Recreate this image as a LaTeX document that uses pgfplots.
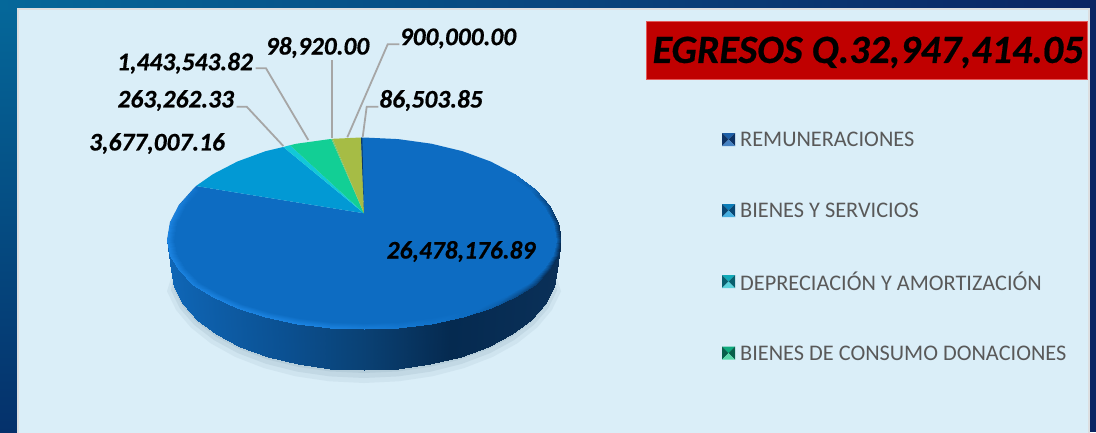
\documentclass[border=0pt]{standalone}
\usepackage{pgfplots}
\pgfplotsset{compat=1.18}
\usepackage{fontspec}
\setmainfont{Carlito}
\definecolor{panel}{HTML}{DAEEF8}
\definecolor{faceblue}{HTML}{0D6CC2}
\definecolor{lightb}{HTML}{0299D4}
\definecolor{cyanb}{HTML}{12C8D8}
\definecolor{greenb}{HTML}{12CF95}
\definecolor{oliveb}{HTML}{A6BC45}
\definecolor{lead}{HTML}{A6A6A6}
\definecolor{legtxt}{HTML}{595959}
\definecolor{frameA}{RGB}{5,104,154}
\definecolor{frameB}{RGB}{5,49,107}
\definecolor{frameC}{RGB}{11,36,99}
\definecolor{shadowc}{RGB}{170,195,210}
\definecolor{framegrey}{RGB}{220,222,224}
\definecolor{boxred}{RGB}{192,0,0}
\definecolor{boxedge}{RGB}{226,90,90}
\definecolor{keyAt}{RGB}{28,95,168}\definecolor{keyAs}{RGB}{13,50,100}\definecolor{keyAb}{RGB}{70,130,195}
\definecolor{keyBt}{RGB}{10,125,185}\definecolor{keyBs}{RGB}{8,70,115}\definecolor{keyBb}{RGB}{70,175,225}
\definecolor{keyCt}{RGB}{15,170,185}\definecolor{keyCs}{RGB}{8,95,110}\definecolor{keyCb}{RGB}{90,210,220}
\definecolor{keyDt}{RGB}{15,170,125}\definecolor{keyDs}{RGB}{8,95,75}\definecolor{keyDb}{RGB}{90,215,170}
\definecolor{slivA}{RGB}{120,198,110}
\definecolor{slivB}{RGB}{12,58,102}
\pgfplotsset{
 colormap={side}{rgb255(0)=(15,102,182) rgb255(0.3)=(11,80,145) rgb255(0.5)=(10,65,116) rgb255(0.72)=(5,42,80) rgb255(1)=(10,48,88)},
 colormap={rim}{rgb255(0)=(28,132,226) rgb255(0.5)=(13,108,194) rgb255(1)=(6,44,85)}
}
\newcommand\legendkey[6]{% ytop ymid ybot  top side bottom
 \addplot[fill=#4,draw=none] coordinates {(722,#1) (735,#1) (728.5,#2)};
 \addplot[fill=#5,draw=none] coordinates {(722,#1) (728.5,#2) (722,#3)};
 \addplot[fill=#5,draw=none] coordinates {(735,#1) (728.5,#2) (735,#3)};
 \addplot[fill=#6,draw=none] coordinates {(722,#3) (735,#3) (728.5,#2)};
}
\newfontfamily\heavy[BoldItalicFeatures={FakeBold=0.5}]{Carlito}
\newcommand\val[1]{\fontsize{25.4}{25.4}\selectfont\heavy\bfseries\itshape #1}
\begin{document}
\begin{tikzpicture}
\begin{axis}[scale only axis,width=1096pt,height=432pt,xmin=0,xmax=1096,ymin=0,ymax=432,
 y dir=reverse,hide axis,clip=true,point meta min=0,point meta max=1]
% frame
\shade[top color=frameA,bottom color=frameB] (axis cs:0,0) rectangle (axis cs:19,432);
\shade[left color=frameA,right color=frameC] (axis cs:0,0) rectangle (axis cs:1096,9);
\fill[fill=frameC] (axis cs:1089,0) rectangle (axis cs:1096,432);
\fill[fill=panel,draw=framegrey,line width=2pt] (axis cs:18,9) rectangle (axis cs:1089,434);
% shadow
\addplot[fill=shadowc,fill opacity=.22,draw=none] coordinates {
(552,262)(561,291.3)(551.9,310)(537.2,327.5)(517.2,343.4)(492.6,357)(464,368.1)(432.4,376.3)(398.7,381.3)(364,383)(329.3,381.3)(295.6,376.3)(264,368.1)(235.4,357)(210.8,343.4)(190.8,327.5)(176.1,310)(167,291.3)(176,262)};
\addplot[fill=shadowc,fill opacity=.35,draw=none] coordinates {
(552,262)(557,290.4)(548.2,308.3)(533.7,325)(514.1,340.1)(490,353.2)(462,363.8)(431,371.6)(398,376.4)(364,378)(330,376.4)(297,371.6)(266,363.8)(238,353.2)(213.9,340.1)(194.3,325)(179.8,308.3)(171,290.4)(176,262)};
\addplot[fill=shadowc,fill opacity=.5,draw=none] coordinates {
(552,262)(554,289.5)(545.4,306.5)(531,322.5)(511.8,336.9)(488,349.4)(460.5,359.5)(430,366.9)(397.5,371.5)(364,373)(330.5,371.5)(298,366.9)(267.5,359.5)(240,349.4)(216.2,336.9)(197,322.5)(182.6,306.5)(174,289.5)(176,262)};
% side wall
\addplot[surf,shader=interp,colormap name=side,mesh/rows=2,mesh/cols=19,point meta=explicit] table[meta=c] {
x y c
557 270 1
554.1 287.4 .992
545.4 304.2 .97
531.1 320 .933
511.8 334.3 .883
488.1 346.6 .822
460.5 356.6 .75
430 364 .671
397.5 368.5 .587
364 370 .5
330.5 368.5 .413
298 364 .329
267.5 356.6 .25
239.9 346.6 .178
216.2 334.3 .117
196.9 320 .067
182.6 304.2 .03
173.9 287.4 .008
171 270 0
561 240 1
558 253.5 .992
549.1 268.4 .97
534.6 282.5 .933
514.9 295.2 .883
490.6 306.2 .822
462.5 315.1 .75
431.4 321.6 .671
398.2 325.6 .587
364 327 .5
329.8 325.6 .413
296.6 321.6 .329
265.5 315.1 .25
237.4 306.2 .178
213.1 295.2 .117
193.4 282.5 .067
178.9 268.4 .03
170 253.5 .008
167 240 0
};
% top face: REMUNERACIONES 26,478,176.89
\addplot[fill=faceblue,draw=none] coordinates {
(364,213.3)(361,137.5)(364,137.5)(398.2,139.1)(431.4,143.7)(462.5,151.2)(490.6,161.5)(514.9,174.1)(534.6,188.7)(549.1,204.9)(558,222.2)(561,240)
(558,255.5)(549.1,270.4)(534.6,284.5)(514.9,297.2)(490.6,308.2)(462.5,317.1)(431.4,323.6)(398.2,327.6)(364,329)
(329.8,327.6)(296.6,323.6)(265.5,317.1)(237.4,308.2)(213.1,297.2)(193.4,284.5)(178.9,270.4)(170,255.5)(167,240)(170,222.2)(178.9,204.9)(193.4,188.7)(196,186)};
% rim bevel
\addplot[surf,shader=interp,colormap name=rim,mesh/rows=2,mesh/cols=27,point meta=explicit] table[meta=c] {
x y c
514.9 174.1 .5
534.6 188.7 .6
549.1 204.9 .8
558 222.2 .95
561 240 1
558 255.5 1
549.1 270.4 .95
534.6 284.5 .85
514.9 297.2 .75
490.6 308.2 .6
462.5 317.1 .5
431.4 323.6 .35
398.2 327.6 .25
364 329 .12
329.8 327.6 .05
296.6 323.6 0
265.5 317.1 0
237.4 308.2 0
213.1 297.2 0
193.4 284.5 .05
178.9 270.4 .05
170 255.5 0
167 240 0
170 222.2 .05
178.9 204.9 .1
193.4 188.7 .3
196 186 .5
511.1 177 .5
530.3 191 .5
544.4 206.5 .5
553.1 223 .5
556 240 .5
553.1 254.4 .5
544.4 268.4 .5
530.3 281.5 .5
511.1 293.4 .5
487.4 303.6 .5
460 311.9 .5
429.7 318 .5
397.3 321.7 .5
364 323 .5
331 321.7 .5
299 318 .5
269 311.9 .5
241.9 303.6 .5
218.5 293.4 .5
199.5 281.5 .5
185.5 268.4 .5
176.9 254.4 .5
174 240 .5
176.9 223 .5
185.5 206.5 .5
199.5 191 .5
202 188.5 .5
};
% BIENES Y SERVICIOS 3,677,007.16
\addplot[fill=lightb,draw=none] coordinates {(364,213.3)(196,186)(213.1,174.1)(237.4,161.5)(265.5,151.2)(283.3,147)};
% DEPRECIACION 263,262.33
\addplot[fill=cyanb,draw=none] coordinates {(364,213.3)(283.3,147)(290,145.2)};
% BIENES DE CONSUMO 1,443,543.82
\addplot[fill=greenb,draw=none] coordinates {(364,213.3)(290,145.2)(296.6,143.7)(329.8,139.1)(331.4,139)};
% 98,920.00
\addplot[fill=slivA,draw=none] coordinates {(364,213.3)(331.4,139)(332.7,138.8)};
% 900,000.00
\addplot[fill=oliveb,draw=none] coordinates {(364,213.3)(332.7,138.8)(361,137.5)};
% 86,503.85
\addplot[fill=slivB,draw=none] coordinates {(364,213.3)(361,137.5)(362.3,137.5)};
% leader lines
\addplot[lead,line width=1.8pt] coordinates {(236.7,106.7)(246.7,106.7)(283.3,146)};
\addplot[lead,line width=1.8pt] coordinates {(255.7,68.3)(266,68.3)(308.3,140)};
\addplot[lead,line width=1.8pt] coordinates {(331.7,60)(331.7,137.7)};
\addplot[lead,line width=1.8pt] coordinates {(399.3,44.3)(387.7,44.3)(347.3,137.3)};
\addplot[lead,line width=1.8pt] coordinates {(378.3,106.7)(366.7,106.7)(362.7,137)};
% value labels
\node[text=black] at (axis cs:461,251.5) {\val{26,478,176.89}};
\node[text=black] at (axis cs:157,143.5) {\val{3,677,007.16}};
\node[text=black] at (axis cs:175.7,100.5) {\val{263,262.33}};
\node[text=black] at (axis cs:185,63.2) {\val{1,443,543.82}};
\node[text=black] at (axis cs:317.5,47.5) {\val{98,920.00}};
\node[text=black] at (axis cs:458,38.5) {\val{900,000.00}};
\node[text=black] at (axis cs:431,100.5) {\val{86,503.85}};
% title box
\fill[fill=boxred,draw=boxedge,line width=.6pt] (axis cs:646.5,21.7) rectangle (axis cs:1087.7,79.3);
\node[text=black] at (axis cs:868,52.5) {\fontsize{40}{40}\selectfont\heavy\bfseries\itshape EGRESOS Q.32,947,414.05};
% legend
\legendkey{133}{139.5}{146}{keyAt}{keyAs}{keyAb}
\legendkey{204}{210.5}{217}{keyBt}{keyBs}{keyBb}
\legendkey{275}{281.5}{288}{keyCt}{keyCs}{keyCb}
\legendkey{346.5}{353}{359.5}{keyDt}{keyDs}{keyDb}
\node[anchor=west,inner sep=0pt,text=legtxt] at (axis cs:740,139.5) {\fontsize{22.3}{22.3}\selectfont REMUNERACIONES};
\node[anchor=west,inner sep=0pt,text=legtxt] at (axis cs:740,210.5) {\fontsize{22.3}{22.3}\selectfont BIENES Y SERVICIOS};
\node[anchor=west,inner sep=0pt,text=legtxt] at (axis cs:740,281.5) {\fontsize{22.3}{22.3}\selectfont DEPRECIACIÓN Y AMORTIZACIÓN};
\node[anchor=west,inner sep=0pt,text=legtxt] at (axis cs:740,353) {\fontsize{22.3}{22.3}\selectfont BIENES DE CONSUMO DONACIONES};
\end{axis}
\end{tikzpicture}
\end{document}
